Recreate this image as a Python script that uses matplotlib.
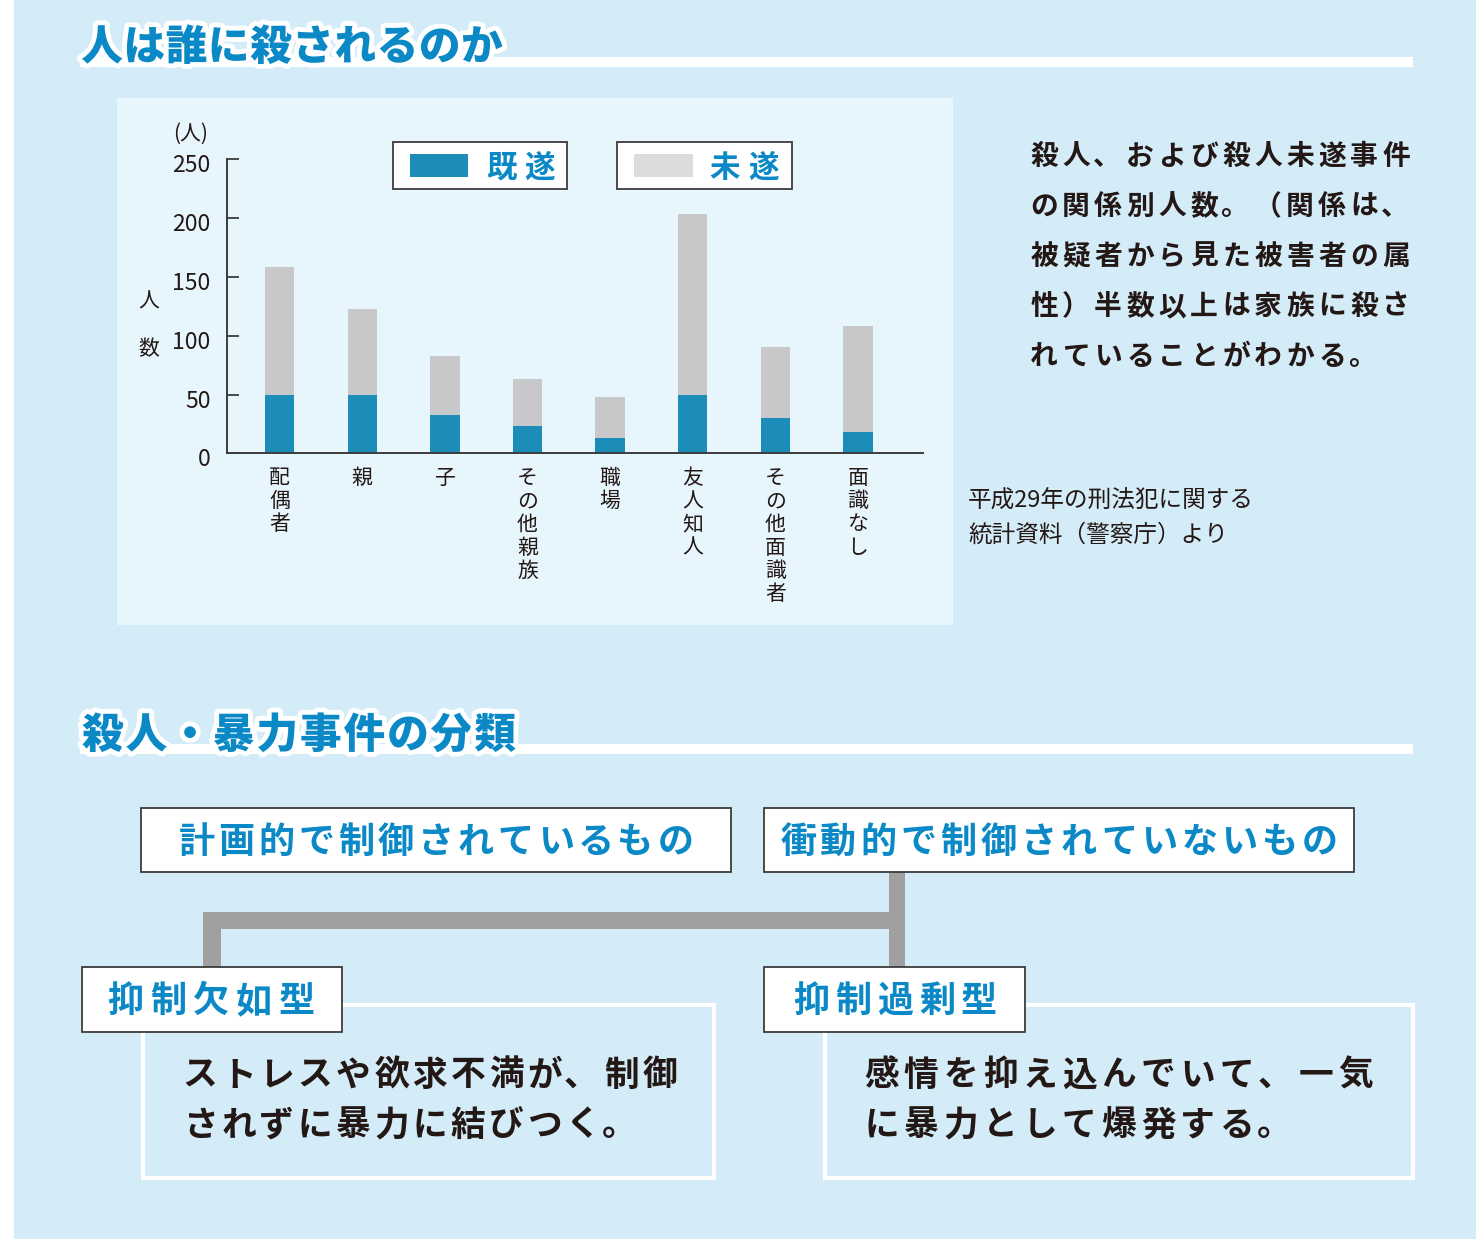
import matplotlib
matplotlib.use("Agg")
import matplotlib.pyplot as plt
from matplotlib.patches import Rectangle
from matplotlib.transforms import ScaledTranslation
import matplotlib.patheffects as pe
import numpy as np

plt.rcParams['font.family'] = ['Noto Sans CJK JP', 'DejaVu Sans']

# ---------------- data ----------------
categories = ['配偶者', '親', '子', 'その他親族', '職場', '友人知人', 'その他面識者', '面識なし']
kisui = [50, 50, 33, 23, 13, 50, 30, 18]          # 既遂
misui = [108, 73, 50, 40, 35, 153, 60, 90]        # 未遂
yticks = [0, 50, 100, 150, 200, 250]
legend_labels = ['既遂', '未遂']

title1 = '人は誰に殺されるのか'
title2 = '殺人・暴力事件の分類'
note_lines = ['殺人、および殺人未遂事件',
              'の関係別人数。（関係は、',
              '被疑者から見た被害者の属',
              '性）半数以上は家族に殺さ',
              'れていることがわかる。']
source_lines = ['平成29年の刑法犯に関する', '統計資料（警察庁）より']
top_boxes = ['計画的で制御されているもの', '衝動的で制御されていないもの']
sub_boxes = ['抑制欠如型', '抑制過剰型']
body_left = ['ストレスや欲求不満が、制御', 'されずに暴力に結びつく。']
body_right = ['感情を抑え込んでいて、一気', 'に暴力として爆発する。']

# ---------------- style ----------------
W, H = 1476, 1239
BG = '#d4ebf8'
PANEL = '#e7f5fd'
BLUE = '#1b8db8'
GRAY = '#c8c8ca'
LGRAY = '#dcdcdc'
TBLUE = '#0a89c6'
INK = '#231815'
EDGE = '#3c3c3c'
CONN = '#a0a0a0'

fig = plt.figure(figsize=(W / 100, H / 100), dpi=100)
bg = fig.add_axes([0, 0, 1, 1], zorder=0)
bg.set_xlim(0, W)
bg.set_ylim(H, 0)
bg.axis('off')

bg.add_patch(Rectangle((0, 0), W, H, facecolor='white', edgecolor='none'))
bg.add_patch(Rectangle((14, 0), W - 14, H, facecolor=BG, edgecolor='none'))
bg.add_patch(Rectangle((117, 98), 836, 527, facecolor=PANEL, edgecolor='none'))

PUNCT = {'、': -0.06, '。': -0.06}


def spaced(x0, yc, s, pitch, size, color=INK, weight='bold', stroke=None, z=5):
    em = size * 100 / 72
    base = yc + 0.36 * em
    for i, ch in enumerate(s):
        cx = x0 + pitch * (i + 0.5) + PUNCT.get(ch, 0) * em
        t = bg.text(cx, base, ch, ha='center', va='baseline', fontsize=size,
                    color=color, fontweight=weight, zorder=z)
        if stroke:
            t.set_path_effects([pe.withStroke(linewidth=stroke, foreground='white')])


def spaced_center(xc, yc, s, pitch, size, **kw):
    spaced(xc - pitch * len(s) / 2, yc, s, pitch, size, **kw)


# titles with white underline bars
bg.add_patch(Rectangle((80, 57), 1333, 10, facecolor='white', edgecolor='none', zorder=2))
spaced(81, 45, title1, 42.2, 30, color=TBLUE, weight='heavy', stroke=7)
bg.add_patch(Rectangle((80, 744), 1333, 10, facecolor='white', edgecolor='none', zorder=2))
spaced(81, 733, title2, 43.6, 30, color=TBLUE, weight='heavy', stroke=7)

# legend boxes
for (x0, x1), (sx0, sx1), col, lab, tx in [((393, 567), (410, 468), BLUE, legend_labels[0], 520),
                                            ((617, 792), (634, 693), LGRAY, legend_labels[1], 744)]:
    bg.add_patch(Rectangle((x0, 142), x1 - x0, 47, facecolor='white', edgecolor=EDGE, lw=1.3, zorder=3))
    bg.add_patch(Rectangle((sx0, 154), sx1 - sx0, 23, facecolor=col, edgecolor='none', zorder=4))
    spaced_center(tx, 166, lab, 38, 22, color=TBLUE)

# axis caption texts
bg.text(191, 134, '(人)', ha='center', va='center', fontsize=15, color=INK)
bg.text(149, 302, '人', ha='center', va='center', fontsize=15, color=INK)
bg.text(149, 349, '数', ha='center', va='center', fontsize=15, color=INK)

# right paragraph
for k, line in enumerate(note_lines):
    spaced(1028, 155 + 50 * k, line, 32, 20)

# source
bg.text(968, 501, source_lines[0], ha='left', va='center', fontsize=17, color=INK)
bg.text(968, 535, source_lines[1], ha='left', va='center', fontsize=17, color=INK)

# connectors
bg.add_patch(Rectangle((889, 872), 16, 96, facecolor=CONN, edgecolor='none', zorder=2))
bg.add_patch(Rectangle((203, 912), 702, 17, facecolor=CONN, edgecolor='none', zorder=2))
bg.add_patch(Rectangle((203, 912), 18, 56, facecolor=CONN, edgecolor='none', zorder=2))

# content boxes (white outline)
bg.add_patch(Rectangle((143, 1005), 571, 173, facecolor='none', edgecolor='white', lw=3, zorder=2))
bg.add_patch(Rectangle((825, 1005), 588, 173, facecolor='none', edgecolor='white', lw=3, zorder=2))

# top boxes
bg.add_patch(Rectangle((141, 808), 590, 64, facecolor='white', edgecolor=EDGE, lw=1.3, zorder=3))
spaced_center(436, 840, top_boxes[0], 39.9, 26, color=TBLUE)
bg.add_patch(Rectangle((764, 808), 590, 64, facecolor='white', edgecolor=EDGE, lw=1.3, zorder=3))
spaced_center(1059, 840, top_boxes[1], 40.1, 26, color=TBLUE)

# sub boxes
bg.add_patch(Rectangle((82, 967), 260, 65, facecolor='white', edgecolor=EDGE, lw=1.3, zorder=3))
spaced_center(211, 999, sub_boxes[0], 43, 26, color=TBLUE)
bg.add_patch(Rectangle((764, 967), 261, 65, facecolor='white', edgecolor=EDGE, lw=1.3, zorder=3))
spaced_center(895, 999, sub_boxes[1], 42, 26, color=TBLUE)

# body texts
for k, line in enumerate(body_left):
    spaced(181, 1073 + 50 * k, line, 38.3, 25)
for k, line in enumerate(body_right):
    spaced(862, 1073 + 50 * k, line, 39.5, 25)

# ---------------- bar chart ----------------
ax_l, ax_r, ax_t, ax_b = 227.3, 923, 159, 453.5
ax = fig.add_axes([ax_l / W, 1 - ax_b / H, (ax_r - ax_l) / W, (ax_b - ax_t) / H], zorder=1)
ax.set_facecolor('none')
x = np.arange(len(categories))
ax.bar(x, kisui, width=0.355, color=BLUE, zorder=2)
ax.bar(x, misui, bottom=kisui, width=0.355, color=GRAY, zorder=2)
ax.set_xlim(-0.634, 7.788)
ax.set_ylim(0, 250)
ax.set_yticks(yticks)
ax.set_yticklabels([str(v) for v in yticks], fontsize=16.5, color=INK)
ax.tick_params(axis='y', direction='in', length=8.6, width=1.3, color=EDGE, pad=12)
off = ScaledTranslation(0, -4 / 100, fig.dpi_scale_trans)
for lab in ax.yaxis.get_majorticklabels():
    lab.set_transform(lab.get_transform() + off)
ax.set_xticks([])
for s in ['top', 'right']:
    ax.spines[s].set_visible(False)
for s in ['left', 'bottom']:
    ax.spines[s].set_color(EDGE)
    ax.spines[s].set_linewidth(1.4)

for i, cat in enumerate(categories):
    for j, ch in enumerate(cat):
        ax.annotate(ch, xy=(i, 0), xycoords=('data', 'axes fraction'),
                    xytext=(0, -24.5 - 23.2 * j), textcoords='offset pixels',
                    ha='center', va='center', fontsize=15, color=INK, annotation_clip=False)

fig.savefig('out.png', dpi=100)
